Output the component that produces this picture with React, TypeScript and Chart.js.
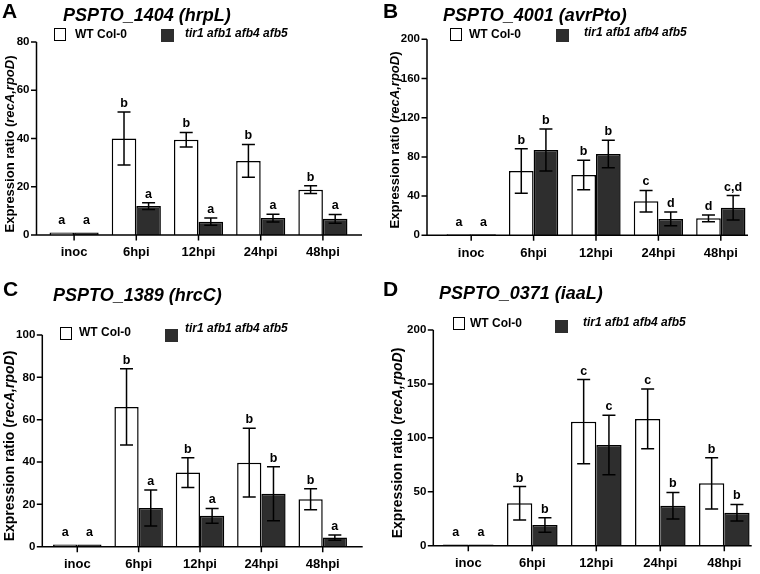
import React, { useEffect, useRef } from 'react';
import { Chart, registerables } from 'chart.js';

Chart.register(...registerables);

const FONT = "'Liberation Sans', Arial, sans-serif";

const categories = ['inoc', '6hpi', '12hpi', '24hpi', '48hpi'];
const wtLabel = 'WT Col-0';
const mutLabel = 'tir1 afb1 afb4 afb5';

// Panel A — PSPTO_1404 (hrpL)
const hrpLWT = [1, 40, 39.5, 30.7, 18.8];
const hrpLWTErr = [0, 11, 3, 6.8, 1.6];
const hrpLMut = [1, 12, 5.5, 7, 6.7];
const hrpLMutErr = [0, 1.4, 1.5, 1.6, 1.8];
const hrpLWTLetters = ['a', 'b', 'b', 'b', 'b'];
const hrpLMutLetters = ['a', 'a', 'a', 'a', 'a'];
const hrpLMax = 80;
const hrpLStep = 20;

// Panel B — PSPTO_4001 (avrPto)
const avrPtoWT = [1, 65.6, 61.6, 34.7, 17.3];
const avrPtoWTErr = [0, 22.7, 15, 11, 3.5];
const avrPtoMut = [1, 87, 83, 16.7, 28];
const avrPtoMutErr = [0, 21.5, 14, 7, 12.5];
const avrPtoWTLetters = ['a', 'b', 'b', 'c', 'd'];
const avrPtoMutLetters = ['a', 'b', 'b', 'd', 'c,d'];
const avrPtoMax = 200;
const avrPtoStep = 40;

// Panel C — PSPTO_1389 (hrcC)
const hrcCWT = [1, 66, 35, 39.7, 22.4];
const hrcCWTErr = [0, 18, 7, 16.2, 5];
const hrcCMut = [1, 18.3, 14.6, 25, 4.3];
const hrcCMutErr = [0, 8.5, 3.5, 12.8, 1.2];
const hrcCWTLetters = ['a', 'b', 'b', 'b', 'b'];
const hrcCMutLetters = ['a', 'a', 'a', 'b', 'a'];
const hrcCMax = 100;
const hrcCStep = 20;

// Panel D — PSPTO_0371 (iaaL)
const iaaLWT = [1, 39.3, 115, 117.5, 57.8];
const iaaLWTErr = [0, 15.5, 39, 27.7, 23.8];
const iaaLMut = [1, 19.2, 93.4, 37.1, 30.6];
const iaaLMutErr = [0, 6.7, 27.5, 12.3, 7.7];
const iaaLWTLetters = ['a', 'b', 'c', 'c', 'b'];
const iaaLMutLetters = ['a', 'b', 'c', 'b', 'b'];
const iaaLMax = 200;
const iaaLStep = 50;

type Layout = {
  box: { left: number; top: number; w: number; h: number };
  area: { left: number; right: number; top: number; bottom: number };
  axisLeft: number;
  axisRight: number;
  letter: { x: number; cy: number };
  title: { x: number; cy: number };
  yTitle: { cx: number; cy: number; fs: number };
  whiteBox: { x: number; y: number };
  wtText: { x: number; cy: number };
  blackBox: { x: number; y: number };
  mutText: { x: number; cy: number };
};

const overlayPlugin = {
  id: 'overlay',
  afterDatasetsDraw(chart: any, _args: any, opts: any) {
    const ctx = chart.ctx;
    const ys = chart.scales.y;
    const xs = chart.scales.x;
    ctx.save();
    ctx.strokeStyle = '#000';
    ctx.fillStyle = '#000';
    ctx.lineWidth = 1.5;
    chart.data.datasets.forEach((ds: any, i: number) => {
      const meta = chart.getDatasetMeta(i);
      meta.data.forEach((bar: any, j: number) => {
        const v = ds.data[j];
        const e = ds.errors[j];
        const cx = bar.x;
        const topPx = ys.getPixelForValue(v + e);
        if (e > 0) {
          const botPx = ys.getPixelForValue(v - e);
          ctx.beginPath();
          ctx.moveTo(cx, topPx);
          ctx.lineTo(cx, botPx);
          ctx.moveTo(cx - 6.5, topPx);
          ctx.lineTo(cx + 6.5, topPx);
          ctx.moveTo(cx - 6.5, botPx);
          ctx.lineTo(cx + 6.5, botPx);
          ctx.stroke();
        }
        ctx.font = `bold 12.5px ${FONT}`;
        ctx.textAlign = 'center';
        ctx.textBaseline = 'middle';
        const off = e > 0 ? 8.5 : 12;
        ctx.fillText(ds.letters[j], cx, topPx - off);
      });
    });
    const aL = opts.axisLeft;
    const aR = opts.axisRight;
    const yTop = ys.getPixelForValue(ys.max);
    const yBot = ys.getPixelForValue(0);
    ctx.beginPath();
    ctx.moveTo(aL, yTop);
    ctx.lineTo(aL, yBot);
    ctx.moveTo(aL, yBot);
    ctx.lineTo(aR, yBot);
    ys.ticks.forEach((t: any) => {
      const py = ys.getPixelForValue(t.value);
      ctx.moveTo(aL - 5.5, py);
      ctx.lineTo(aL, py);
    });
    categories.forEach((_c, i) => {
      const px = xs.getPixelForValue(i);
      ctx.moveTo(px, yBot);
      ctx.lineTo(px, yBot + 5.5);
    });
    ctx.stroke();
    ctx.restore();
  },
};

function ChartPanel(props: {
  layout: Layout;
  wt: number[];
  wtErr: number[];
  wtLetters: string[];
  mut: number[];
  mutErr: number[];
  mutLetters: string[];
  max: number;
  step: number;
}) {
  const ref = useRef<HTMLCanvasElement>(null);
  const { layout, wt, wtErr, wtLetters, mut, mutErr, mutLetters, max, step } = props;
  useEffect(() => {
    if (!ref.current) return;
    const { box, area, axisLeft, axisRight } = layout;
    const xH = 30;
    const chart = new Chart(ref.current, {
      type: 'bar',
      data: {
        labels: categories,
        datasets: [
          {
            label: wtLabel,
            data: wt,
            errors: wtErr,
            letters: wtLetters,
            backgroundColor: '#ffffff',
            borderColor: '#000000',
            borderWidth: 1.5,
            categoryPercentage: 0.79,
            barPercentage: 1,
          } as any,
          {
            label: mutLabel,
            data: mut,
            errors: mutErr,
            letters: mutLetters,
            backgroundColor: '#2e2e2e',
            borderColor: '#000000',
            borderWidth: 1.5,
            categoryPercentage: 0.79,
            barPercentage: 1,
          } as any,
        ],
      },
      options: {
        responsive: false,
        animation: false,
        devicePixelRatio: 1,
        layout: {
          padding: {
            left: 0,
            top: area.top,
            right: box.w - area.right,
            bottom: box.h - area.bottom - xH,
          },
        },
        plugins: {
          legend: { display: false },
          tooltip: { enabled: false },
          title: { display: false },
          overlay: { axisLeft: axisLeft - box.left, axisRight: axisRight - box.left },
        } as any,
        scales: {
          x: {
            type: 'category',
            offset: true,
            grid: { display: false, drawTicks: false },
            border: { display: false },
            ticks: {
              color: '#000',
              font: { family: FONT, size: 13, weight: 'bold' },
              padding: 10,
              maxRotation: 0,
              autoSkip: false,
            },
            afterFit: (s: any) => {
              s.height = xH;
            },
          },
          y: {
            type: 'linear',
            min: 0,
            max: max,
            grid: { display: false, drawTicks: false },
            border: { display: false },
            ticks: {
              stepSize: step,
              color: '#000',
              font: { family: FONT, size: 11.5, weight: 'bold' },
              padding: area.left - (axisLeft - box.left - 7),
            },
            afterFit: (s: any) => {
              s.width = area.left;
            },
          },
        },
      } as any,
      plugins: [overlayPlugin],
    });
    return () => chart.destroy();
  }, []);
  const { box } = layout;
  return (
    <canvas
      ref={ref}
      width={box.w}
      height={box.h}
      style={{ position: 'absolute', left: box.left, top: box.top, width: box.w, height: box.h }}
    />
  );
}

function Txt(props: { x: number; cy: number; fs: number; italic?: boolean; children: any }) {
  const { x, cy, fs, italic, children } = props;
  return (
    <div
      style={{
        position: 'absolute',
        left: x,
        top: cy - fs / 2,
        fontSize: fs,
        lineHeight: `${fs}px`,
        fontFamily: FONT,
        fontWeight: 700,
        fontStyle: italic ? 'italic' : 'normal',
        whiteSpace: 'nowrap',
        color: '#000',
      }}
    >
      {children}
    </div>
  );
}

function PanelDecor(props: { layout: Layout; letter: string; title: string }) {
  const { layout: L, letter, title } = props;
  return (
    <>
      <Txt x={L.letter.x} cy={L.letter.cy} fs={21}>
        {letter}
      </Txt>
      <Txt x={L.title.x} cy={L.title.cy} fs={18} italic>
        {title}
      </Txt>
      <div
        style={{
          position: 'absolute',
          left: L.yTitle.cx,
          top: L.yTitle.cy,
          transform: 'translate(-50%, -50%) rotate(-90deg)',
          fontFamily: FONT,
          fontWeight: 700,
          fontSize: L.yTitle.fs,
          lineHeight: `${L.yTitle.fs}px`,
          whiteSpace: 'nowrap',
          color: '#000',
        }}
      >
        Expression ratio (<i>recA,rpoD</i>)
      </div>
      <div
        style={{
          position: 'absolute',
          left: L.whiteBox.x,
          top: L.whiteBox.y,
          width: 10,
          height: 11,
          border: '1.5px solid #000',
          background: '#fff',
        }}
      />
      <Txt x={L.wtText.x} cy={L.wtText.cy} fs={12}>
        {wtLabel}
      </Txt>
      <div
        style={{
          position: 'absolute',
          left: L.blackBox.x,
          top: L.blackBox.y,
          width: 13,
          height: 13,
          background: '#2e2e2e',
        }}
      />
      <Txt x={L.mutText.x} cy={L.mutText.cy} fs={12} italic>
        {mutLabel}
      </Txt>
    </>
  );
}

const layoutA: Layout = {
  box: { left: 0, top: 0, w: 380, h: 280 },
  area: { left: 43, right: 354, top: 42, bottom: 235 },
  axisLeft: 36.5,
  axisRight: 362,
  letter: { x: 2, cy: 10 },
  title: { x: 63, cy: 14.5 },
  yTitle: { cx: 8.5, cy: 144, fs: 13 },
  whiteBox: { x: 54, y: 28 },
  wtText: { x: 75, cy: 34 },
  blackBox: { x: 161, y: 29 },
  mutText: { x: 185, cy: 33 },
};

const layoutB: Layout = {
  box: { left: 380, top: 0, w: 380, h: 280 },
  area: { left: 60, right: 372, top: 39.3, bottom: 235.3 },
  axisLeft: 427,
  axisRight: 748,
  letter: { x: 383, cy: 10 },
  title: { x: 443, cy: 15 },
  yTitle: { cx: 393.5, cy: 140, fs: 13 },
  whiteBox: { x: 450, y: 28 },
  wtText: { x: 469, cy: 33.5 },
  blackBox: { x: 556, y: 29 },
  mutText: { x: 584, cy: 32 },
};

const layoutC: Layout = {
  box: { left: 0, top: 280, w: 380, h: 294 },
  area: { left: 46.6, right: 353.4, top: 55, bottom: 266.7 },
  axisLeft: 42.3,
  axisRight: 362.7,
  letter: { x: 3, cy: 288 },
  title: { x: 53, cy: 295 },
  yTitle: { cx: 9, cy: 445.5, fs: 14 },
  whiteBox: { x: 60, y: 327 },
  wtText: { x: 79, cy: 332 },
  blackBox: { x: 165, y: 329 },
  mutText: { x: 185, cy: 328 },
};

const layoutD: Layout = {
  box: { left: 380, top: 280, w: 380, h: 294 },
  area: { left: 56.3, right: 376.3, top: 50, bottom: 265.7 },
  axisLeft: 433.3,
  axisRight: 751.7,
  letter: { x: 383, cy: 288 },
  title: { x: 439, cy: 292.5 },
  yTitle: { cx: 397, cy: 442.5, fs: 14 },
  whiteBox: { x: 453, y: 317 },
  wtText: { x: 470, cy: 323 },
  blackBox: { x: 555, y: 320 },
  mutText: { x: 583, cy: 322 },
};

export default function App() {
  return (
    <div
      style={{
        position: 'absolute',
        left: 0,
        top: 0,
        width: 760,
        height: 574,
        background: '#fff',
        overflow: 'hidden',
      }}
    >
      <ChartPanel layout={layoutA} wt={hrpLWT} wtErr={hrpLWTErr} wtLetters={hrpLWTLetters} mut={hrpLMut} mutErr={hrpLMutErr} mutLetters={hrpLMutLetters} max={hrpLMax} step={hrpLStep} />
      <ChartPanel layout={layoutB} wt={avrPtoWT} wtErr={avrPtoWTErr} wtLetters={avrPtoWTLetters} mut={avrPtoMut} mutErr={avrPtoMutErr} mutLetters={avrPtoMutLetters} max={avrPtoMax} step={avrPtoStep} />
      <ChartPanel layout={layoutC} wt={hrcCWT} wtErr={hrcCWTErr} wtLetters={hrcCWTLetters} mut={hrcCMut} mutErr={hrcCMutErr} mutLetters={hrcCMutLetters} max={hrcCMax} step={hrcCStep} />
      <ChartPanel layout={layoutD} wt={iaaLWT} wtErr={iaaLWTErr} wtLetters={iaaLWTLetters} mut={iaaLMut} mutErr={iaaLMutErr} mutLetters={iaaLMutLetters} max={iaaLMax} step={iaaLStep} />
      <PanelDecor layout={layoutA} letter="A" title="PSPTO_1404 (hrpL)" />
      <PanelDecor layout={layoutB} letter="B" title="PSPTO_4001 (avrPto)" />
      <PanelDecor layout={layoutC} letter="C" title="PSPTO_1389 (hrcC)" />
      <PanelDecor layout={layoutD} letter="D" title="PSPTO_0371 (iaaL)" />
    </div>
  );
}
